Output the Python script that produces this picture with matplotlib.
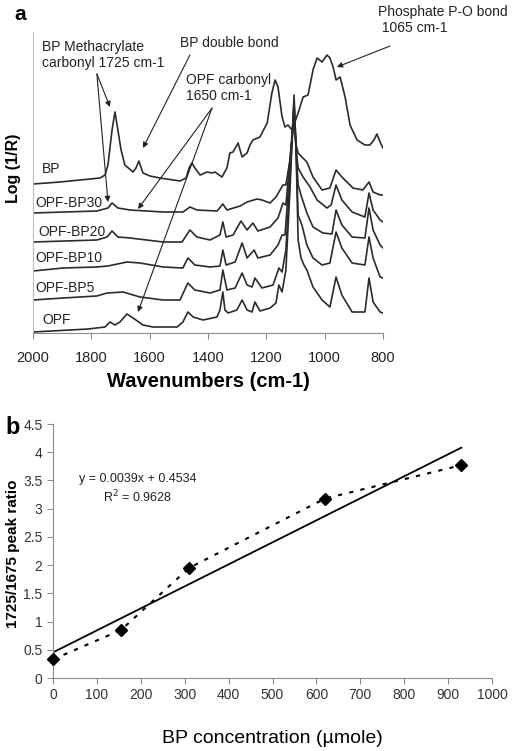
import numpy as np
import matplotlib as mpl
mpl.use('Agg')
import matplotlib.pyplot as plt

mpl.rcParams['font.family'] = ['Liberation Sans', 'DejaVu Sans']
mpl.rcParams['font.size'] = 10

# ---- panel a: NIR spectra (wavenumber, log(1/R) in arbitrary offset units)
bp_wn = [2000, 1907, 1770, 1753, 1743, 1729, 1719, 1709, 1698, 1685, 1657, 1647, 1637, 1623,
         1599, 1565, 1496, 1475, 1465, 1455, 1445, 1427, 1403, 1386, 1376, 1352, 1335, 1325,
         1314, 1297, 1283, 1266, 1256, 1246, 1222, 1197, 1181, 1170, 1160, 1146, 1136, 1126,
         1112, 1091, 1074, 1057, 1040, 1026, 1009, 992, 982, 971, 961, 947, 930, 913, 889,
         862, 845, 831, 821, 810, 800]
bp_val = [1.49, 1.51, 1.55, 1.58, 1.68, 2.03, 2.21, 2.03, 1.83, 1.68, 1.61, 1.65, 1.72, 1.60,
          1.57, 1.55, 1.52, 1.55, 1.65, 1.70, 1.65, 1.58, 1.61, 1.60, 1.61, 1.56, 1.65, 1.80,
          1.81, 1.90, 1.76, 1.80, 1.88, 1.93, 1.96, 2.10, 2.40, 2.53, 2.46, 2.16, 2.06, 2.08,
          2.03, 2.20, 2.36, 2.38, 2.63, 2.75, 2.71, 2.78, 2.75, 2.66, 2.53, 2.56, 2.36, 2.08,
          1.93, 1.88, 1.88, 1.93, 1.99, 1.91, 1.85]

bp30_wn = [2000, 1781, 1743, 1729, 1709, 1667, 1554, 1486, 1462, 1438, 1369, 1349, 1335, 1290,
           1266, 1232, 1215, 1187, 1167, 1153, 1143, 1133, 1119, 1105, 1098, 1091, 1078, 1061,
           1040, 1009, 982, 961, 941, 903, 869, 848, 834, 810, 800]
bp30_val = [1.20, 1.22, 1.25, 1.30, 1.25, 1.23, 1.21, 1.21, 1.26, 1.23, 1.22, 1.29, 1.23, 1.27,
            1.31, 1.34, 1.33, 1.30, 1.36, 1.43, 1.48, 1.48, 1.73, 2.13, 1.88, 1.80, 1.76, 1.71,
            1.56, 1.43, 1.45, 1.63, 1.56, 1.45, 1.43, 1.51, 1.41, 1.38, 1.38]

bp20_wn = [2000, 1781, 1746, 1729, 1709, 1667, 1554, 1489, 1462, 1438, 1393, 1359, 1349, 1338,
           1314, 1287, 1266, 1246, 1229, 1187, 1160, 1143, 1133, 1119, 1105, 1098, 1091, 1074,
           1050, 1026, 992, 978, 961, 941, 906, 862, 848, 834, 810, 800]
bp20_val = [0.91, 0.93, 0.96, 1.02, 0.96, 0.95, 0.91, 0.91, 1.03, 0.96, 0.93, 0.98, 1.11, 0.96,
            0.98, 1.12, 1.03, 1.10, 1.02, 1.06, 1.15, 1.30, 1.28, 1.73, 2.23, 1.83, 1.65, 1.56,
            1.46, 1.33, 1.25, 1.28, 1.48, 1.33, 1.21, 1.16, 1.40, 1.23, 1.13, 1.11]

bp10_wn = [2000, 1897, 1781, 1743, 1678, 1633, 1554, 1486, 1469, 1445, 1393, 1359, 1349, 1338,
           1307, 1283, 1266, 1242, 1229, 1187, 1160, 1146, 1136, 1119, 1105, 1098, 1091, 1078,
           1061, 1040, 1006, 975, 961, 941, 906, 862, 848, 834, 810, 800]
bp10_val = [0.62, 0.65, 0.66, 0.67, 0.71, 0.70, 0.66, 0.65, 0.75, 0.68, 0.66, 0.67, 0.83, 0.68,
            0.71, 0.90, 0.75, 0.83, 0.75, 0.78, 0.88, 0.98, 0.98, 1.63, 2.28, 1.83, 1.48, 1.35,
            1.20, 1.06, 1.00, 0.99, 1.23, 1.08, 0.96, 0.95, 1.25, 1.03, 0.88, 0.85]

bp5_wn = [2000, 1897, 1781, 1746, 1691, 1633, 1554, 1496, 1469, 1445, 1393, 1359, 1349, 1335,
          1307, 1283, 1266, 1249, 1239, 1215, 1177, 1157, 1146, 1133, 1119, 1105, 1098, 1091,
          1078, 1061, 1040, 1009, 982, 961, 941, 906, 862, 848, 834, 810, 800]
bp5_val = [0.33, 0.35, 0.37, 0.40, 0.41, 0.36, 0.33, 0.33, 0.50, 0.43, 0.40, 0.43, 0.63, 0.43,
           0.45, 0.60, 0.48, 0.46, 0.55, 0.45, 0.48, 0.65, 0.61, 0.83, 1.53, 2.33, 1.83, 1.18,
           1.08, 0.88, 0.75, 0.68, 0.70, 1.01, 0.85, 0.70, 0.68, 0.96, 0.75, 0.56, 0.55]

opf_wn = [2000, 1811, 1753, 1736, 1719, 1702, 1678, 1657, 1623, 1589, 1506, 1486, 1469, 1451,
          1417, 1369, 1359, 1349, 1342, 1331, 1301, 1283, 1266, 1249, 1239, 1222, 1187, 1167,
          1157, 1146, 1133, 1119, 1105, 1098, 1091, 1081, 1071, 1061, 1040, 1009, 982, 961,
          941, 906, 862, 848, 834, 810, 800]
opf_val = [0.01, 0.04, 0.06, 0.11, 0.08, 0.11, 0.19, 0.15, 0.08, 0.06, 0.06, 0.11, 0.21, 0.16,
           0.13, 0.16, 0.23, 0.41, 0.23, 0.20, 0.23, 0.33, 0.23, 0.21, 0.31, 0.22, 0.25, 0.30,
           0.48, 0.41, 0.63, 1.43, 2.38, 1.83, 0.93, 0.75, 0.68, 0.63, 0.46, 0.33, 0.26, 0.56,
           0.38, 0.21, 0.21, 0.55, 0.31, 0.21, 0.20]

spectra_names = ['BP', 'OPF-BP30', 'OPF-BP20', 'OPF-BP10', 'OPF-BP5', 'OPF']
label_wn = [1969, 1993, 1983, 1993, 1993, 1969]
label_val = [1.64, 1.30, 1.01, 0.75, 0.45, 0.13]
wn_ticks = [2000, 1800, 1600, 1400, 1200, 1000, 800]

# ---- panel b: peak ratio vs BP concentration
conc = [0, 155, 310, 620, 930]
ratio = [0.33, 0.85, 1.95, 3.18, 3.77]
fit_slope, fit_icpt = 0.0039, 0.4534
fit_r2 = 0.9628

W, H = 512, 751
fig = plt.figure(figsize=(W / 100, H / 100), dpi=100)
line_col = '#2b2b2b'
axis_col = '#8c8c8c'

# panel a
ax = fig.add_axes([33 / W, 1 - 333 / H, 350 / W, 301 / H])
series = [(bp_wn, bp_val), (bp30_wn, bp30_val), (bp20_wn, bp20_val),
          (bp10_wn, bp10_val), (bp5_wn, bp5_val), (opf_wn, opf_val)]
for (wn, val), name, lx, ly in zip(series, spectra_names, label_wn, label_val):
  ax.plot(wn, val, color=line_col, lw=1.2)
  ax.text(lx, ly, name, ha='left', va='center', fontsize=10, color='#222222')
ax.set_xlim(2000, 800)
ax.set_ylim(0, 3.01)
ax.set_xticks(wn_ticks)
ax.set_yticks([])
for s in ['top', 'right']:
  ax.spines[s].set_visible(False)
ax.spines['left'].set_color('#bbbbbb')
ax.spines['bottom'].set_color(axis_col)
ax.tick_params(axis='x', direction='out', length=4, color=axis_col, labelsize=10.5,
               labelcolor='#222222', pad=9)
ax.set_xlabel('Wavenumbers (cm-1)', fontsize=14.5, fontweight='bold', labelpad=5)
ax.set_ylabel('Log (1/R)', fontsize=11.5, fontweight='bold')
ax.yaxis.set_label_coords(-0.034, 0.548)

arrow = dict(arrowstyle='-|>', color='#222222', lw=0.8, mutation_scale=8, shrinkA=0, shrinkB=0)
txt = dict(fontsize=10, color='#222222', annotation_clip=False)
ax.annotate('BP Methacrylate\ncarbonyl 1725 cm-1', xy=(1969, 2.93), ha='left', va='top',
            linespacing=1.15, **txt)
ax.annotate('', xy=(1736, 2.26), xytext=(1781, 2.59), arrowprops=arrow, annotation_clip=False)
ax.annotate('', xy=(1743, 1.31), xytext=(1781, 2.59), arrowprops=arrow, annotation_clip=False)
ax.annotate('BP double bond', xy=(1496, 2.90), ha='left', va='center', **txt)
ax.annotate('', xy=(1623, 1.85), xytext=(1462, 2.78), arrowprops=arrow, annotation_clip=False)
ax.annotate('OPF carbonyl\n1650 cm-1', xy=(1475, 2.60), ha='left', va='top',
            linespacing=1.15, **txt)
ax.annotate('', xy=(1640, 1.24), xytext=(1386, 2.25), arrowprops=arrow, annotation_clip=False)
ax.annotate('', xy=(1640, 0.21), xytext=(1386, 2.25), arrowprops=arrow, annotation_clip=False)
ax.annotate('Phosphate P-O bond\n 1065 cm-1', xy=(817, 3.28), ha='left', va='top',
            linespacing=1.15, **txt)
ax.annotate('', xy=(958, 2.66), xytext=(776, 2.87), arrowprops=arrow, annotation_clip=False)
fig.text(20 / W, 1 - 14 / H, 'a', fontsize=15, fontweight='bold', ha='center', va='center')

# panel b
bx = fig.add_axes([53 / W, 1 - 678 / H, 439 / W, 254 / H])
fit_x = np.array([conc[0], conc[-1]])
bx.plot(fit_x, fit_slope * fit_x + fit_icpt, color='black', lw=1.3)
bx.plot(conc, ratio, color='black', lw=1.5, ls=(0, (2, 3.5)), marker='D', ms=6.5,
        markerfacecolor='black', markeredgecolor='black', clip_on=False, zorder=3)
bx.set_xlim(0, 1000)
bx.set_ylim(0, 4.5)
bx.set_xticks(np.arange(0, 1001, 100))
bx.set_yticks(np.arange(0, 4.51, 0.5))
bx.set_yticklabels(['0', '0.5', '1', '1.5', '2', '2.5', '3', '3.5', '4', '4.5'])
for s in ['top', 'right']:
  bx.spines[s].set_visible(False)
for s in ['left', 'bottom']:
  bx.spines[s].set_color(axis_col)
bx.tick_params(direction='out', length=4, color=axis_col, labelsize=10, labelcolor='#333333')
bx.text(193, 3.52, 'y = 0.0039x + 0.4534', ha='center', va='center', fontsize=9, color='#222222')
bx.text(193, 3.2, 'R$^2$ = {:.4f}'.format(fit_r2), ha='center', va='center', fontsize=9,
        color='#222222')
bx.set_xlabel('BP concentration (µmole)', fontsize=14, labelpad=20)
bx.set_ylabel('1725/1675 peak ratio', fontsize=11, fontweight='bold')
bx.yaxis.set_label_coords(-0.075, 0.49)
fig.text(13 / W, 1 - 427 / H, 'b', fontsize=17, fontweight='bold', ha='center', va='center')

fig.savefig('out.png', dpi=100)
